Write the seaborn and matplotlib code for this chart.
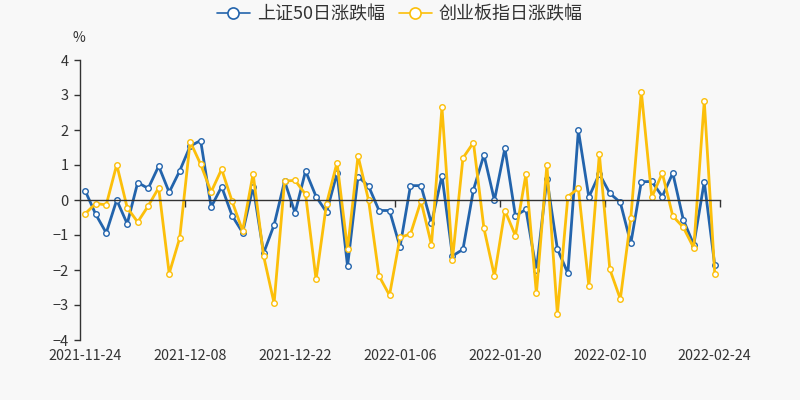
import pandas as pd
import matplotlib
matplotlib.use('Agg')
import matplotlib.pyplot as plt
import seaborn as sns

# trading days 2021-11-24 .. 2022-02-24
dates = [
    '2021-11-24', '2021-11-25', '2021-11-26', '2021-11-29', '2021-11-30',
    '2021-12-01', '2021-12-02', '2021-12-03', '2021-12-06', '2021-12-07',
    '2021-12-08', '2021-12-09', '2021-12-10', '2021-12-13', '2021-12-14',
    '2021-12-15', '2021-12-16', '2021-12-17', '2021-12-20', '2021-12-21',
    '2021-12-22', '2021-12-23', '2021-12-24', '2021-12-27', '2021-12-28',
    '2021-12-29', '2021-12-30', '2021-12-31', '2022-01-04', '2022-01-05',
    '2022-01-06', '2022-01-07', '2022-01-10', '2022-01-11', '2022-01-12',
    '2022-01-13', '2022-01-14', '2022-01-17', '2022-01-18', '2022-01-19',
    '2022-01-20', '2022-01-21', '2022-01-24', '2022-01-25', '2022-01-26',
    '2022-01-27', '2022-01-28', '2022-02-07', '2022-02-08', '2022-02-09',
    '2022-02-10', '2022-02-11', '2022-02-14', '2022-02-15', '2022-02-16',
    '2022-02-17', '2022-02-18', '2022-02-21', '2022-02-22', '2022-02-23',
    '2022-02-24',
]

sz50 = [
    0.26, -0.41, -0.94, 0.00, -0.68, 0.50, 0.33, 0.97, 0.22, 0.83,
    1.54, 1.70, -0.20, 0.38, -0.45, -0.93, 0.38, -1.52, -0.71, 0.54,
    -0.37, 0.83, 0.10, -0.35, 0.77, -1.89, 0.67, 0.40, -0.30, -0.30,
    -1.34, 0.41, 0.41, -0.67, 0.70, -1.60, -1.41, 0.29, 1.29, -0.01,
    1.48, -0.45, -0.27, -2.01, 0.61, -1.40, -2.09, 1.99, 0.08, 0.75,
    0.19, -0.07, -1.24, 0.52, 0.53, 0.10, 0.77, -0.56, -1.28, 0.52,
    -1.87,
]

cyb = [
    -0.39, -0.10, -0.14, 1.01, -0.22, -0.63, -0.17, 0.35, -2.10, -1.09,
    1.67, 1.02, 0.23, 0.88, -0.04, -0.88, 0.75, -1.60, -2.95, 0.54,
    0.56, 0.16, -2.27, -0.10, 1.07, -1.41, 1.26, 0.00, -2.17, -2.72,
    -1.07, -0.97, -0.03, -1.28, 2.65, -1.70, 1.20, 1.64, -0.81, -2.17,
    -0.30, -1.02, 0.73, -2.67, 1.00, -3.26, 0.10, 0.33, -2.45, 1.31,
    -1.98, -2.83, -0.51, 3.10, 0.08, 0.77, -0.46, -0.78, -1.37, 2.83,
    -2.10,
]

series_names = ['上证50日涨跌幅', '创业板指日涨跌幅']
colors = ['#2364ac', '#fcbf0a']

df = pd.DataFrame({'date': dates, series_names[0]: sz50, series_names[1]: cyb})
df['pos'] = range(len(df))
long_df = df.melt(id_vars=['date', 'pos'], var_name='series', value_name='pct')

sns.set_style('white')
plt.rcParams['font.family'] = ['Noto Sans CJK SC', 'DejaVu Sans']
plt.rcParams['axes.unicode_minus'] = True

fig = plt.figure(figsize=(8, 4), dpi=100, facecolor='#f8f8f8')
ax = fig.add_axes([0.1, 0.15, 0.8, 0.7])
ax.set_facecolor('#f8f8f8')

sns.lineplot(data=long_df, x='pos', y='pct', hue='series', palette=colors,
             hue_order=series_names, marker='o', markersize=4,
             markerfacecolor='white', markeredgewidth=1, linewidth=2,
             ax=ax, legend=False)
# white fill for markers, edge matching series colour
for line, c in zip(ax.get_lines(), colors):
    line.set_markeredgecolor(c)
    line.set_markerfacecolor('white')

n = len(dates)
ax.set_xlim(-0.5, n - 0.5)
ax.set_ylim(-4, 4)
ax.set_yticks(range(-4, 5))
ax.set_xlabel('')
ax.set_ylabel('')

# x axis sits on zero, labels at the bottom
ax.spines['top'].set_visible(False)
ax.spines['right'].set_visible(False)
ax.spines['bottom'].set_position(('data', 0))
ax.spines['bottom'].set_color('#333333')
ax.spines['left'].set_color('#333333')
ax.spines['bottom'].set_linewidth(1)
ax.spines['left'].set_linewidth(1)

label_pos = list(range(0, n, 10))
ax.set_xticks(label_pos)
ax.set_xticklabels([dates[i] for i in label_pos])
ax.set_xticks([p - 0.5 for p in range(10, n, 10)] + [n - 0.5], minor=True)
ax.tick_params(axis='x', which='both', bottom=True)
ax.tick_params(axis='y', which='both', left=True)
ax.tick_params(axis='x', which='major', length=0, pad=107, labelsize=10.3,
               colors='#333333')
ax.tick_params(axis='x', which='minor', length=5, width=1, color='#333333',
               direction='out')
ax.tick_params(axis='y', length=4, width=1, color='#333333', labelsize=10.5,
               labelcolor='#333333', pad=4)

fig.text(0.098, 0.905, '%', fontsize=10, color='#333333', ha='center', va='center')

handles = [plt.Line2D([], [], color=c, linewidth=1.2, marker='o', markersize=8,
                      markerfacecolor='white', markeredgewidth=1.2)
           for c in colors]
fig.legend(handles, series_names, loc='center', bbox_to_anchor=(0.5, 0.965),
           ncol=2, frameon=False, fontsize=13, handlelength=1.8,
           columnspacing=0.8, handletextpad=0.4, labelcolor='#333333')

fig.savefig('out.png', dpi=100, facecolor=fig.get_facecolor())
